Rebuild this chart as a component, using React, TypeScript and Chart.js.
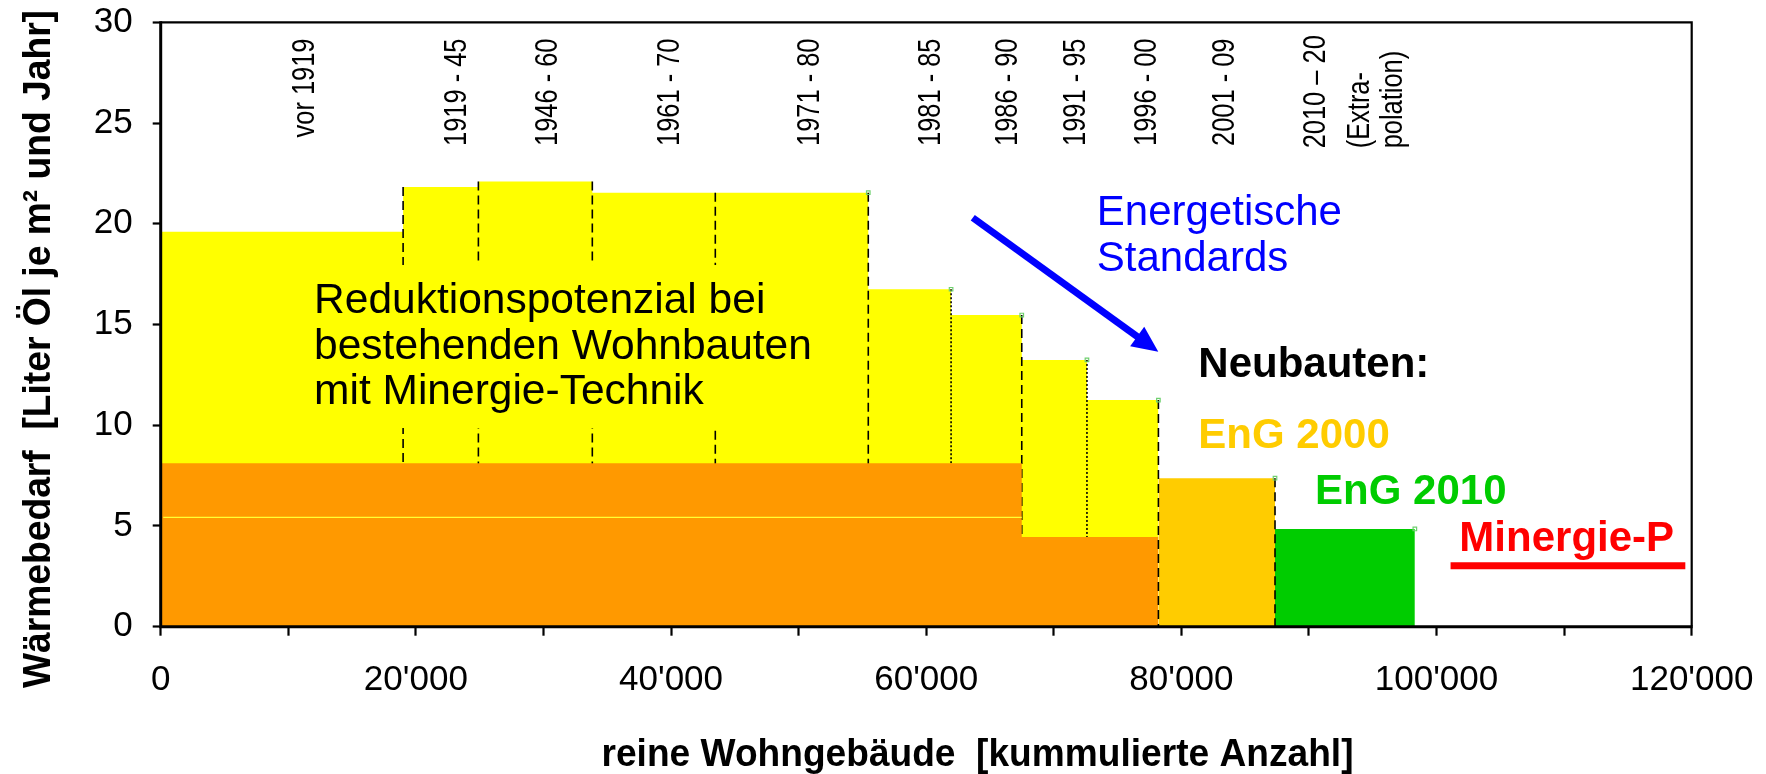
import React, { useEffect, useRef } from 'react';
import { Chart, registerables } from 'chart.js';

Chart.register(...registerables);

const FONT = '"Liberation Sans", Arial, Helvetica, sans-serif';

// ---- Data -------------------------------------------------------------
// Building age classes (labels drawn vertically above the steps)
const periodLabels = ['vor 1919', '1919 - 45', '1946 - 60', '1961 - 70', '1971 - 80', '1981 - 85', '1986 - 90', '1991 - 95', '1996 - 00', '2001 - 09'];
const periodLabelX = [11310, 23250, 30380, 39980, 50930, 60380, 66440, 71780, 77330, 83490];
const extrapolationLabel = ['2010 – 20', '(Extra-', 'polation)'];
const extrapolationLabelX = [90620, 94060, 96620];

// Existing residential buildings: cumulative count at step start, heat demand
const existingStepX = [0, 19000, 24900, 33830, 43470, 55460, 61950, 67490, 72600, 78200];
const existingStepY = [19.6, 21.82, 22.1, 21.54, 21.54, 16.75, 15.47, 13.24, 11.25, 11.25];
const dividerStyle = ['dash', 'dash', 'dash', 'dash', 'dash', 'dot', 'dash', 'dot'];

// Reduction potential with Minergie technique (orange)
const retrofitX = [0, 67490, 78200];
const retrofitY = [8.11, 4.45, 4.45];
const retrofitLineX = [200, 67490];
const retrofitLineY = [5.43, 5.43];

// New buildings
const eng2000X = [78200, 87340];
const eng2000Y = [7.37, 7.37];
const eng2010X = [87340, 98300];
const eng2010Y = [4.85, 4.85];
const minergiePX = [101100, 119500];
const minergiePY = [3.03, 3.03];
const newDividerX = [78200, 87340];
const newDividerTop = [11.25, 7.37];

// small step-end markers
const markerX = [55460, 61950, 67490, 72600, 78200, 87340, 98300];
const markerY = [21.54, 16.75, 15.47, 13.24, 11.25, 7.37, 4.85];

// Axis
const xTickStep = 10000;
const xLabelStep = 20000;
const yTickStep = 5;
const xTitle = 'reine Wohngebäude  [kummulierte Anzahl]';
const yTitle = 'Wärmebedarf  [Liter Öl je m² und Jahr]';

// Annotations (anchor = left / baseline of first line, in data units)
const retrofitNote = { lines: ['Reduktionspotenzial bei', 'bestehenden Wohnbauten', 'mit Minergie-Technik'], x: 12020, y: 15.57 };
const noteTexts = [
  { lines: ['Energetische', 'Standards'], x: 73370, y: 19.94, color: '#0000ff', bold: false },
  { lines: ['Neubauten:'], x: 81330, y: 12.41, color: '#000000', bold: true },
  { lines: ['EnG 2000'], x: 81330, y: 8.855, color: '#ffcc00', bold: true },
  { lines: ['EnG 2010'], x: 90480, y: 6.09, color: '#00cc00', bold: true },
  { lines: ['Minergie-P'], x: 101790, y: 3.77, color: '#ff0000', bold: true },
];
const arrowFrom = { x: 63650, y: 20.3 };
const arrowTo = { x: 78190, y: 13.65 };

// ---- helpers ----------------------------------------------------------
const pts = (xs: number[], ys: number[]) => xs.map((x, i) => ({ x, y: ys[i] }));
const fmt = (v: number) => String(v).replace(/\B(?=(\d{3})+(?!\d))/g, "'");

function buildDatasets() {
  const ds: any[] = [];
  const base = { pointRadius: 0, pointHoverRadius: 0, tension: 0 };
  ds.push({ ...base, label: 'Bestand', data: pts(existingStepX, existingStepY), stepped: 'before', fill: 'origin', backgroundColor: '#ffff00', borderWidth: 0, borderColor: 'rgba(0,0,0,0)', order: 100 });
  for (let i = 1; i < existingStepX.length - 1; i++) {
    const top = Math.max(existingStepY[i - 1], existingStepY[i]);
    const dotted = dividerStyle[i - 1] === 'dot';
    ds.push({ ...base, label: 'div' + i, data: [{ x: existingStepX[i], y: top }, { x: existingStepX[i], y: 0 }], borderColor: '#000', borderWidth: 1.6, borderDash: dotted ? [2, 2] : [9, 5], fill: false, order: 90 });
  }
  ds.push({ ...base, label: 'Minergie-Technik', data: pts(retrofitX, retrofitY), stepped: 'before', fill: 'origin', backgroundColor: '#ff9900', borderWidth: 0, borderColor: 'rgba(0,0,0,0)', order: 80 });
  ds.push({ ...base, label: 'line', data: pts(retrofitLineX, retrofitLineY), borderColor: '#ffff33', borderWidth: 1.2, fill: false, order: 70 });
  ds.push({ ...base, label: 'EnG 2000', data: pts(eng2000X, eng2000Y), fill: 'origin', backgroundColor: '#ffcc00', borderWidth: 0, borderColor: 'rgba(0,0,0,0)', order: 60 });
  ds.push({ ...base, label: 'EnG 2010', data: pts(eng2010X, eng2010Y), fill: 'origin', backgroundColor: '#00cc00', borderWidth: 0, borderColor: 'rgba(0,0,0,0)', order: 60 });
  newDividerX.forEach((x, i) => {
    ds.push({ ...base, label: 'ndiv' + i, data: [{ x, y: newDividerTop[i] }, { x, y: 0 }], borderColor: '#000', borderWidth: 1.6, borderDash: [9, 5], fill: false, order: 50 });
  });
  ds.push({ ...base, label: 'Minergie-P', data: pts(minergiePX, minergiePY), borderColor: '#ff0000', borderWidth: 7, borderCapStyle: 'butt', fill: false, order: 40 });
  ds.push({ label: 'markers', data: pts(markerX, markerY), showLine: false, pointStyle: 'rect', pointRadius: 2.5, pointBorderWidth: 1.2, pointBorderColor: '#6fd06f', pointBackgroundColor: 'rgba(0,0,0,0)', borderColor: '#6fd06f', order: 30 });
  return ds;
}

function fitText(ctx: CanvasRenderingContext2D, text: string, targetWidth: number) {
  const w = ctx.measureText(text).width;
  return w > 0 ? targetWidth / w : 1;
}

export default function App() {
  const ref = useRef<HTMLCanvasElement>(null);

  useEffect(() => {
    if (!ref.current) return;
    const datasets = buildDatasets();
    const orangeIndex = datasets.findIndex((d) => d.label === 'Minergie-Technik');

    const overlay = {
      id: 'overlay',
      beforeDatasetDraw(chart: any, args: any) {
        if (args.index !== orangeIndex) return;
        const ctx = chart.ctx as CanvasRenderingContext2D;
        const xs = chart.scales.x;
        const ys = chart.scales.y;
        ctx.save();
        ctx.font = `42.5px ${FONT}`;
        const x0 = xs.getPixelForValue(retrofitNote.x);
        const y0 = ys.getPixelForValue(retrofitNote.y);
        const lh = 45.5;
        const w = Math.max(...retrofitNote.lines.map((l) => ctx.measureText(l).width));
        ctx.fillStyle = '#ffff00';
        ctx.fillRect(x0 - 14, y0 - 48, w + 28, lh * (retrofitNote.lines.length - 1) + 72);
        ctx.fillStyle = '#000';
        ctx.textBaseline = 'alphabetic';
        ctx.textAlign = 'left';
        retrofitNote.lines.forEach((l, i) => ctx.fillText(l, x0, y0 + i * lh));
        ctx.restore();
      },
      afterDatasetsDraw(chart: any) {
        const ctx = chart.ctx as CanvasRenderingContext2D;
        const xs = chart.scales.x;
        const ys = chart.scales.y;
        const a = chart.chartArea;
        ctx.save();
        // frame
        ctx.strokeStyle = '#000';
        ctx.lineWidth = 2.2;
        ctx.beginPath();
        ctx.moveTo(a.left, a.top);
        ctx.lineTo(a.right, a.top);
        ctx.lineTo(a.right, a.bottom);
        ctx.stroke();
        ctx.lineWidth = 3;
        ctx.beginPath();
        ctx.moveTo(a.left, a.top - 1);
        ctx.lineTo(a.left, a.bottom);
        ctx.lineTo(a.right + 1, a.bottom);
        ctx.stroke();

        // vertical period labels
        ctx.fillStyle = '#000';
        ctx.font = `31px ${FONT}`;
        ctx.textBaseline = 'middle';
        periodLabels.forEach((lab, i) => {
          ctx.save();
          ctx.translate(xs.getPixelForValue(periodLabelX[i]), 38.5);
          ctx.rotate(-Math.PI / 2);
          ctx.scale(0.82, 1);
          ctx.textAlign = 'right';
          ctx.fillText(lab, 0, 0);
          ctx.restore();
        });
        extrapolationLabel.forEach((lab, i) => {
          ctx.save();
          ctx.translate(xs.getPixelForValue(extrapolationLabelX[i]), 148.3);
          ctx.rotate(-Math.PI / 2);
          ctx.scale(0.82, 1);
          ctx.textAlign = 'left';
          ctx.fillText(lab, 0, 0);
          ctx.restore();
        });

        // annotations
        ctx.textBaseline = 'alphabetic';
        ctx.textAlign = 'left';
        noteTexts.forEach((n) => {
          ctx.font = `${n.bold ? 'bold ' : ''}42px ${FONT}`;
          ctx.fillStyle = n.color;
          const x0 = xs.getPixelForValue(n.x);
          const y0 = ys.getPixelForValue(n.y);
          n.lines.forEach((l, i) => ctx.fillText(l, x0, y0 + i * 45.7));
        });

        // arrow
        const sx = xs.getPixelForValue(arrowFrom.x);
        const sy = ys.getPixelForValue(arrowFrom.y);
        const tx = xs.getPixelForValue(arrowTo.x);
        const ty = ys.getPixelForValue(arrowTo.y);
        const len = Math.hypot(tx - sx, ty - sy);
        const dx = (tx - sx) / len;
        const dy = (ty - sy) / len;
        const head = 26;
        const half = 12;
        ctx.strokeStyle = '#0000ff';
        ctx.fillStyle = '#0000ff';
        ctx.lineWidth = 7;
        ctx.lineCap = 'butt';
        ctx.beginPath();
        ctx.moveTo(sx, sy);
        ctx.lineTo(tx - dx * (head - 4), ty - dy * (head - 4));
        ctx.stroke();
        ctx.beginPath();
        ctx.moveTo(tx, ty);
        ctx.lineTo(tx - dx * head - dy * half, ty - dy * head + dx * half);
        ctx.lineTo(tx - dx * head + dy * half, ty - dy * head - dx * half);
        ctx.closePath();
        ctx.fill();
        ctx.restore();
      },
      afterDraw(chart: any) {
        const ctx = chart.ctx as CanvasRenderingContext2D;
        ctx.save();
        ctx.fillStyle = '#000';
        ctx.font = `bold 39px ${FONT}`;
        ctx.textBaseline = 'alphabetic';
        ctx.textAlign = 'center';
        // x title
        ctx.save();
        ctx.translate(977.5, 766);
        ctx.scale(fitText(ctx, xTitle, 752), 1);
        ctx.fillText(xTitle, 0, 0);
        ctx.restore();
        // y title
        ctx.save();
        ctx.translate(50, 349);
        ctx.rotate(-Math.PI / 2);
        ctx.scale(fitText(ctx, yTitle, 678), 1);
        ctx.fillText(yTitle, 0, 0);
        ctx.restore();
        ctx.restore();
      },
    };

    const chart = new Chart(ref.current, {
      type: 'line',
      data: { datasets },
      options: {
        responsive: false,
        maintainAspectRatio: false,
        animation: false,
        events: [],
        layout: { autoPadding: false, padding: { top: 22.3, right: 74.3, left: 0, bottom: 0 } },
        plugins: { legend: { display: false }, tooltip: { enabled: false }, title: { display: false } },
        scales: {
          x: {
            type: 'linear',
            min: 0,
            max: 120000,
            afterFit: (s: any) => { s.height = 774 - 626.7; s.paddingLeft = 0; s.paddingRight = 0; },
            border: { display: false },
            grid: { display: true, drawOnChartArea: false, drawTicks: true, tickLength: 9, tickWidth: 2.2, tickColor: '#000' },
            ticks: {
              stepSize: xTickStep,
              autoSkip: false,
              maxRotation: 0,
              minRotation: 0,
              padding: 24,
              color: '#000',
              font: { family: FONT, size: 35 },
              callback: (v: any) => (Number(v) % xLabelStep === 0 ? fmt(Number(v)) : ''),
            },
          },
          y: {
            type: 'linear',
            min: 0,
            max: 30,
            afterFit: (s: any) => { s.width = 160.7; s.paddingTop = 0; s.paddingBottom = 0; },
            border: { display: false },
            grid: { display: true, drawOnChartArea: false, drawTicks: true, tickLength: 8, tickWidth: 2.2, tickColor: '#000' },
            ticks: { stepSize: yTickStep, padding: 20, color: '#000', font: { family: FONT, size: 35 } },
          },
        },
      } as any,
      plugins: [overlay],
    });
    return () => chart.destroy();
  }, []);

  return (
    <div style={{ position: 'absolute', left: 0, top: 0, width: 1766, height: 774, background: '#fff' }}>
      <canvas ref={ref} width={1766} height={774} style={{ display: 'block', width: 1766, height: 774 }} />
    </div>
  );
}
